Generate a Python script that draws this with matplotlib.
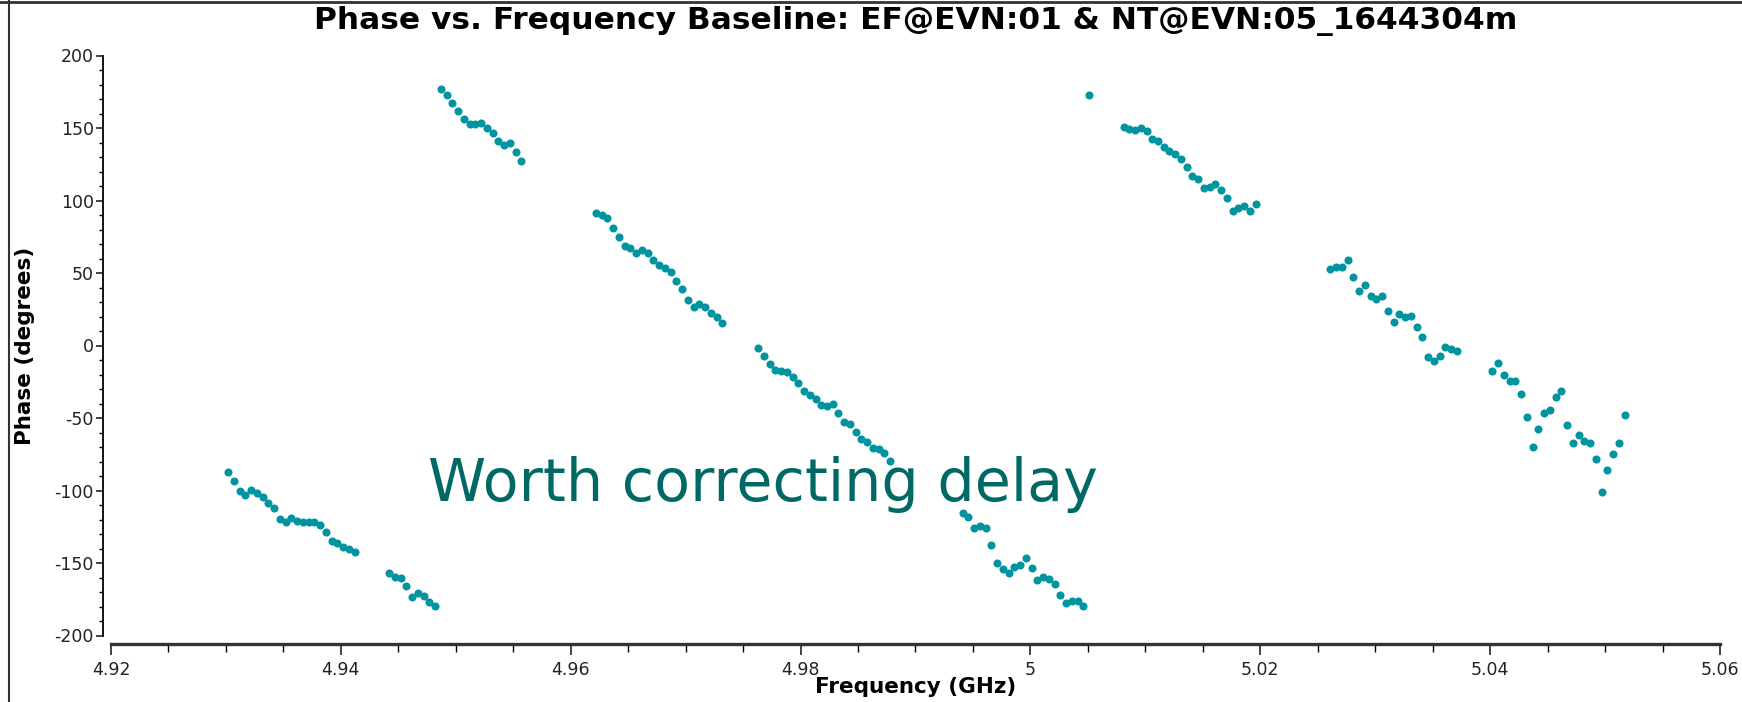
import numpy as np
import matplotlib
matplotlib.use("Agg")
import matplotlib.pyplot as plt
from matplotlib.lines import Line2D

plt.rcParams["axes.unicode_minus"] = False

# channel frequencies (GHz) and phases (deg) for each subband
freq_a = [4.9302, 4.9307, 4.9312, 4.9317, 4.9322, 4.9327, 4.9332, 4.9337, 4.9342, 4.9347,
          4.9352, 4.9357, 4.9362, 4.9367, 4.9372, 4.9377, 4.9382, 4.9387, 4.9392, 4.9397,
          4.9402, 4.9407, 4.9412]
phase_a = [-87.0, -93.4, -100.1, -103.1, -99.7, -101.5, -104.3, -108.4, -112.3, -119.9,
           -121.5, -119.2, -121.0, -121.5, -121.5, -122.0, -123.8, -128.4, -134.8, -136.0,
           -138.7, -140.6, -142.6]

freq_b = [4.9442, 4.9447, 4.9452, 4.9457, 4.9462, 4.9467, 4.9472, 4.9477, 4.9482, 4.9487,
          4.9492, 4.9497, 4.9502, 4.9507, 4.9512, 4.9517, 4.9522, 4.9527, 4.9532, 4.9537,
          4.9542, 4.9547, 4.9552, 4.9557]
phase_b = [-157.1, -159.4, -160.6, -165.6, -173.2, -170.9, -172.8, -176.7, -179.4, 176.7,
           172.8, 167.5, 161.7, 156.0, 152.5, 152.5, 153.7, 149.8, 146.3, 141.3,
           138.3, 139.9, 133.2, 127.5]

freq_d = [4.9622, 4.9627, 4.9632, 4.9637, 4.9642, 4.9647, 4.9652, 4.9657, 4.9662, 4.9667,
          4.9672, 4.9677, 4.9682, 4.9687, 4.9692, 4.9697, 4.9702, 4.9707, 4.9712, 4.9717,
          4.9722, 4.9727, 4.9732]
phase_d = [91.6, 90.0, 88.2, 81.3, 75.1, 68.6, 67.0, 64.0, 65.9, 63.6,
           59.0, 55.5, 53.7, 50.5, 44.5, 39.0, 31.4, 26.8, 28.4, 26.8,
           22.6, 19.4, 15.7]

freq_e = [4.9763, 4.9768, 4.9773, 4.9778, 4.9783, 4.9788, 4.9793, 4.9798, 4.9803, 4.9808,
          4.9813, 4.9818, 4.9823, 4.9828, 4.9833, 4.9838, 4.9843, 4.9848, 4.9853, 4.9858,
          4.9863, 4.9868, 4.9873, 4.9878]
phase_e = [-2.0, -7.2, -12.8, -16.9, -17.6, -18.5, -21.5, -26.1, -31.4, -34.1,
           -37.1, -41.0, -41.5, -40.3, -46.3, -52.5, -54.4, -59.9, -64.7, -66.8,
           -70.9, -71.6, -74.4, -79.4]

freq_f = [4.9941, 4.9946, 4.9951, 4.9956, 4.9961, 4.9966, 4.9971, 4.9976, 4.9981, 4.9986,
          4.9991, 4.9996, 5.0001, 5.0006, 5.0011, 5.0016, 5.0021, 5.0026, 5.0031, 5.0036,
          5.0041, 5.0046, 5.0051]
phase_f = [-115.3, -118.0, -126.1, -124.5, -126.1, -137.6, -149.8, -154.4, -156.7, -152.5,
           -151.4, -146.8, -153.7, -161.7, -159.9, -161.3, -164.7, -172.1, -177.8, -176.2,
           -176.2, -179.7, 172.8]

freq_g = [5.0081, 5.0086, 5.0091, 5.0096, 5.0101, 5.0106, 5.0111, 5.0116, 5.0121, 5.0126,
          5.0131, 5.0136, 5.0141, 5.0146, 5.0151, 5.0156, 5.0161, 5.0166, 5.0171, 5.0176,
          5.0181, 5.0186, 5.0191, 5.0196]
phase_g = [150.5, 149.3, 148.6, 150.0, 147.9, 142.2, 141.3, 136.7, 134.1, 132.3,
           128.4, 122.9, 117.1, 114.8, 108.9, 109.1, 111.4, 107.2, 101.7, 93.0,
           94.8, 96.4, 93.0, 97.4]

freq_h = [5.0261, 5.0266, 5.0271, 5.0276, 5.0281, 5.0286, 5.0291, 5.0296, 5.0301, 5.0306,
          5.0311, 5.0316, 5.0321, 5.0326, 5.0331, 5.0336, 5.0341, 5.0346, 5.0351, 5.0356,
          5.0361, 5.0366, 5.0371]
phase_h = [52.5, 53.9, 54.4, 59.0, 47.0, 37.8, 41.7, 34.1, 31.8, 34.1,
           24.0, 16.4, 21.7, 19.4, 20.3, 13.0, 6.1, -7.7, -10.5, -7.2,
           -0.8, -2.2, -3.8]

freq_i = [5.0402, 5.0407, 5.0412, 5.0417, 5.0422, 5.0427, 5.0432, 5.0437, 5.0442, 5.0447,
          5.0452, 5.0457, 5.0462, 5.0467, 5.0472, 5.0477, 5.0482, 5.0487, 5.0492, 5.0497,
          5.0502, 5.0507, 5.0512, 5.0517]
phase_i = [-17.6, -11.8, -20.3, -24.3, -24.3, -33.4, -49.1, -70.2, -57.6, -46.3,
           -44.5, -35.3, -31.4, -54.8, -67.5, -61.7, -65.9, -67.5, -78.5, -100.8,
           -85.9, -75.1, -67.5, -47.9]

freqs = freq_a + freq_b + freq_d + freq_e + freq_f + freq_g + freq_h + freq_i
phases = phase_a + phase_b + phase_d + phase_e + phase_f + phase_g + phase_h + phase_i

dot_color = "#0094a0"
note_color = "#006966"

fig = plt.figure(figsize=(17.42, 7.02), dpi=100)
ax = fig.add_axes([111 / 1742, 66.5 / 702, 1609 / 1742, 580 / 702])

ax.plot(freqs, phases, "o", color=dot_color, ms=5.8, mew=0, clip_on=False)

ax.set_xlim(4.92, 5.06)
ax.set_ylim(-200, 200)
ax.set_xticks(np.arange(4.92, 5.0601, 0.02))
ax.set_xticklabels(["4.92", "4.94", "4.96", "4.98", "5", "5.02", "5.04", "5.06"])
ax.set_xticks(np.arange(4.92, 5.0601, 0.005), minor=True)
ax.set_yticks(np.arange(-200, 201, 50))
ax.set_yticks(np.arange(-200, 201, 10), minor=True)

for s in ["top", "right"]:
    ax.spines[s].set_visible(False)
ax.spines["left"].set_position(("outward", 6))
ax.spines["bottom"].set_position(("outward", 6))
ax.spines["left"].set_linewidth(1.3)
ax.spines["bottom"].set_linewidth(2.4)
ax.spines["bottom"].set_color("#333333")

ax.tick_params(axis="both", which="major", labelsize=12.5, colors="#222222", width=1.2)
ax.tick_params(axis="y", which="major", length=5, pad=1.5)
ax.tick_params(axis="y", which="minor", length=3, width=1.0)
ax.tick_params(axis="x", which="major", length=8, pad=4.5)
ax.tick_params(axis="x", which="minor", length=6, width=1.0)

ax.set_xlabel("Frequency (GHz)", fontsize=15.5, fontweight="bold", labelpad=-1.5)
ax.set_ylabel("Phase (degrees)", fontsize=15.5, fontweight="bold", labelpad=14)
ax.set_title("Phase vs. Frequency Baseline: EF@EVN:01 & NT@EVN:05_1644304m",
             fontsize=22.5, fontweight="bold", pad=19)

ax.text(4.9476, -107, "Worth correcting delay", fontsize=42.3, color=note_color,
        va="baseline", ha="left")

# window frame on the top and left edges
fig.add_artist(Line2D([0, 1], [0.997, 0.997], color="#333333", lw=2, transform=fig.transFigure))
fig.add_artist(Line2D([9 / 1742, 9 / 1742], [0, 1], color="#333333", lw=1.5, transform=fig.transFigure))

fig.savefig("out.png", dpi=100)
